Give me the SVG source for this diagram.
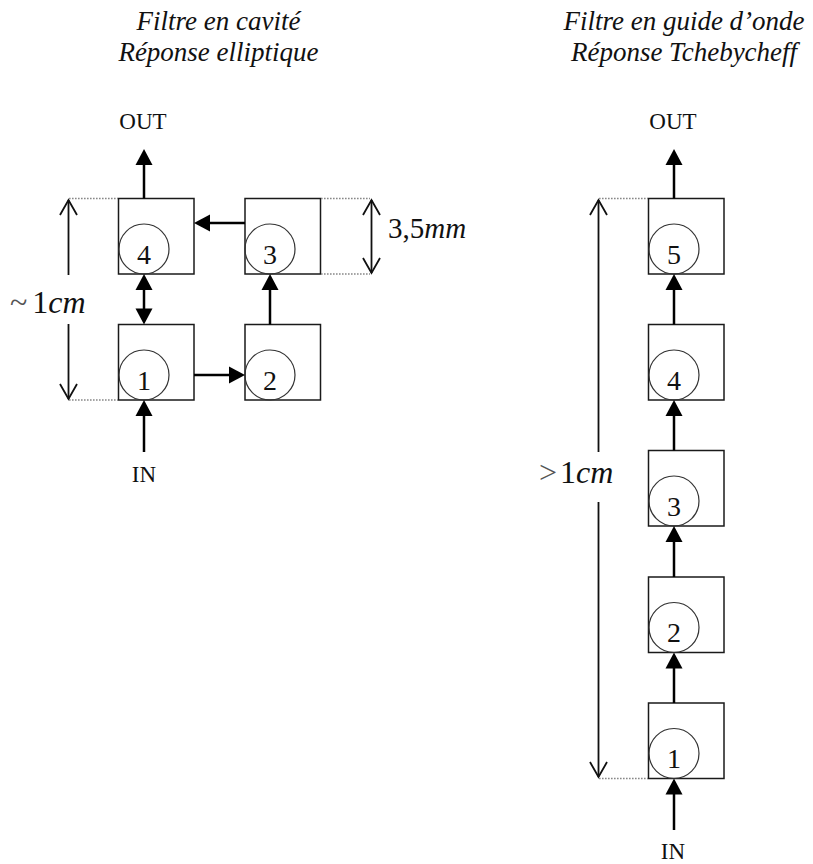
<svg xmlns="http://www.w3.org/2000/svg" width="813" height="864" viewBox="0 0 813 864" font-family="'Liberation Serif', 'Times New Roman', serif">
<style>
  text{font-family:'Liberation Serif','Times New Roman',serif}
  .box{fill:none;stroke:#1a1a1a;stroke-width:1.5}
  .res{fill:none;stroke:#333;stroke-width:1.2}
  .num{font-size:28px;fill:#111;text-anchor:middle}
  .port{font-size:23px;fill:#111;text-anchor:middle}
  .title{font-style:italic;font-size:27px;fill:#111;text-anchor:middle}
  .dimtxt{font-size:32px;fill:#111}
  .sym{fill:#555}
  .it{font-style:italic}
  .arr{fill:none;stroke:#000;stroke-width:2.5}
  .dim{fill:none;stroke:#111;stroke-width:1.8}
  .dot{fill:none;stroke:#888;stroke-width:1.3;stroke-dasharray:1.6 1.4}
</style>
<defs>
  <marker id="ah" viewBox="-17 -9 18 18" refX="-4" refY="0" markerWidth="18" markerHeight="18" markerUnits="userSpaceOnUse" orient="auto-start-reverse">
    <path d="M-16,-8.5 L0,0 L-16,8.5 Z" fill="#000"/>
  </marker>
  <marker id="chev" viewBox="-17 -10 19 20" refX="0" refY="0" markerWidth="19" markerHeight="20" markerUnits="userSpaceOnUse" orient="auto-start-reverse">
    <path d="M-15,-8.5 L0,0 L-15,8.5" fill="none" stroke="#111" stroke-width="1.8"/>
  </marker>
</defs>

<!-- Titles -->
<g id="title-left">
  <text class="title" x="218.5" y="30">Filtre en cavité</text>
  <text class="title" x="218.5" y="61">Réponse elliptique</text>
</g>
<g id="title-right">
  <text class="title" x="684" y="30">Filtre en guide d’onde</text>
  <text class="title" x="684" y="61">Réponse Tchebycheff</text>
</g>

<!-- Left filter (cavity) nodes -->
<g id="L4"><rect class="box" x="118.5" y="198.5" width="75.5" height="75.5"/><circle class="res" cx="144" cy="249" r="25"/><text class="num" x="144" y="263.5">4</text></g>
<g id="L3"><rect class="box" x="245" y="198.5" width="75.5" height="75.5"/><circle class="res" cx="270" cy="249" r="25"/><text class="num" x="270" y="263.5">3</text></g>
<g id="L1"><rect class="box" x="118.5" y="324.5" width="75.5" height="75.5"/><circle class="res" cx="144" cy="375" r="25"/><text class="num" x="144" y="389.5">1</text></g>
<g id="L2"><rect class="box" x="245" y="324.5" width="75.5" height="75.5"/><circle class="res" cx="270" cy="375" r="25"/><text class="num" x="270" y="389.5">2</text></g>
<g id="L-out"><text class="port" x="143" y="129">OUT</text></g>
<g id="L-in"><text class="port" x="144" y="482">IN</text></g>

<!-- Right filter (waveguide) nodes -->
<g id="R5"><rect class="box" x="648.5" y="198.5" width="75.5" height="75.5"/><circle class="res" cx="674" cy="249" r="25"/><text class="num" x="674" y="263.5">5</text></g>
<g id="R4"><rect class="box" x="648.5" y="324.5" width="75.5" height="75.5"/><circle class="res" cx="674" cy="375" r="25"/><text class="num" x="674" y="389.5">4</text></g>
<g id="R3"><rect class="box" x="648.5" y="450.5" width="75.5" height="75.5"/><circle class="res" cx="674" cy="501" r="25"/><text class="num" x="674" y="515.5">3</text></g>
<g id="R2"><rect class="box" x="648.5" y="577" width="75.5" height="75.5"/><circle class="res" cx="674" cy="627.5" r="25"/><text class="num" x="674" y="642">2</text></g>
<g id="R1"><rect class="box" x="648.5" y="703" width="75.5" height="75.5"/><circle class="res" cx="674" cy="753.5" r="25"/><text class="num" x="674" y="768">1</text></g>
<g id="R-out"><text class="port" x="673" y="129">OUT</text></g>
<g id="R-in"><text class="port" x="673" y="859">IN</text></g>

<!-- Connectors -->
<g id="connectors">
  <line class="arr" x1="144" y1="198.5" x2="144" y2="153" marker-end="url(#ah)"/>
  <line class="arr" x1="245" y1="223" x2="198" y2="223" marker-end="url(#ah)"/>
  <line class="arr" x1="144" y1="278" x2="144" y2="320.5" marker-start="url(#ah)" marker-end="url(#ah)"/>
  <line class="arr" x1="270" y1="324.5" x2="270" y2="278" marker-end="url(#ah)"/>
  <line class="arr" x1="194" y1="375" x2="241" y2="375" marker-end="url(#ah)"/>
  <line class="arr" x1="144" y1="452" x2="144" y2="404" marker-end="url(#ah)"/>
  <line class="arr" x1="674" y1="198.5" x2="674" y2="153" marker-end="url(#ah)"/>
  <line class="arr" x1="674" y1="324.5" x2="674" y2="278" marker-end="url(#ah)"/>
  <line class="arr" x1="674" y1="450.5" x2="674" y2="404" marker-end="url(#ah)"/>
  <line class="arr" x1="674" y1="577" x2="674" y2="530" marker-end="url(#ah)"/>
  <line class="arr" x1="674" y1="703" x2="674" y2="656.5" marker-end="url(#ah)"/>
  <line class="arr" x1="674" y1="830" x2="674" y2="782.5" marker-end="url(#ah)"/>
</g>

<!-- Dimensions -->
<g id="dim-1cm">
  <line class="dot" x1="69" y1="198.5" x2="118" y2="198.5"/>
  <line class="dot" x1="69" y1="400" x2="118" y2="400"/>
  <line class="dim" x1="68.5" y1="275" x2="68.5" y2="200" marker-end="url(#chev)"/>
  <line class="dim" x1="68.5" y1="324" x2="68.5" y2="399" marker-end="url(#chev)"/>
  <text class="dimtxt" x="10" y="313"><tspan class="sym">~</tspan><tspan dx="5">1</tspan><tspan class="it">cm</tspan></text>
</g>
<g id="dim-35mm">
  <line class="dot" x1="321" y1="198.5" x2="370" y2="198.5"/>
  <line class="dot" x1="321" y1="274" x2="370" y2="274"/>
  <line class="dim" x1="371.5" y1="200" x2="371.5" y2="273" marker-start="url(#chev)" marker-end="url(#chev)"/>
  <text class="dimtxt" x="388" y="238" style="font-size:29px">3,5<tspan class="it">mm</tspan></text>
</g>
<g id="dim-gt1cm">
  <line class="dot" x1="599" y1="198.5" x2="648" y2="198.5"/>
  <line class="dot" x1="599" y1="778.5" x2="648" y2="778.5"/>
  <line class="dim" x1="598.5" y1="452" x2="598.5" y2="200" marker-end="url(#chev)"/>
  <line class="dim" x1="598.5" y1="502" x2="598.5" y2="777" marker-end="url(#chev)"/>
  <text class="dimtxt" x="539" y="483"><tspan class="sym">&gt;</tspan><tspan dx="3">1</tspan><tspan class="it">cm</tspan></text>
</g>
</svg>
